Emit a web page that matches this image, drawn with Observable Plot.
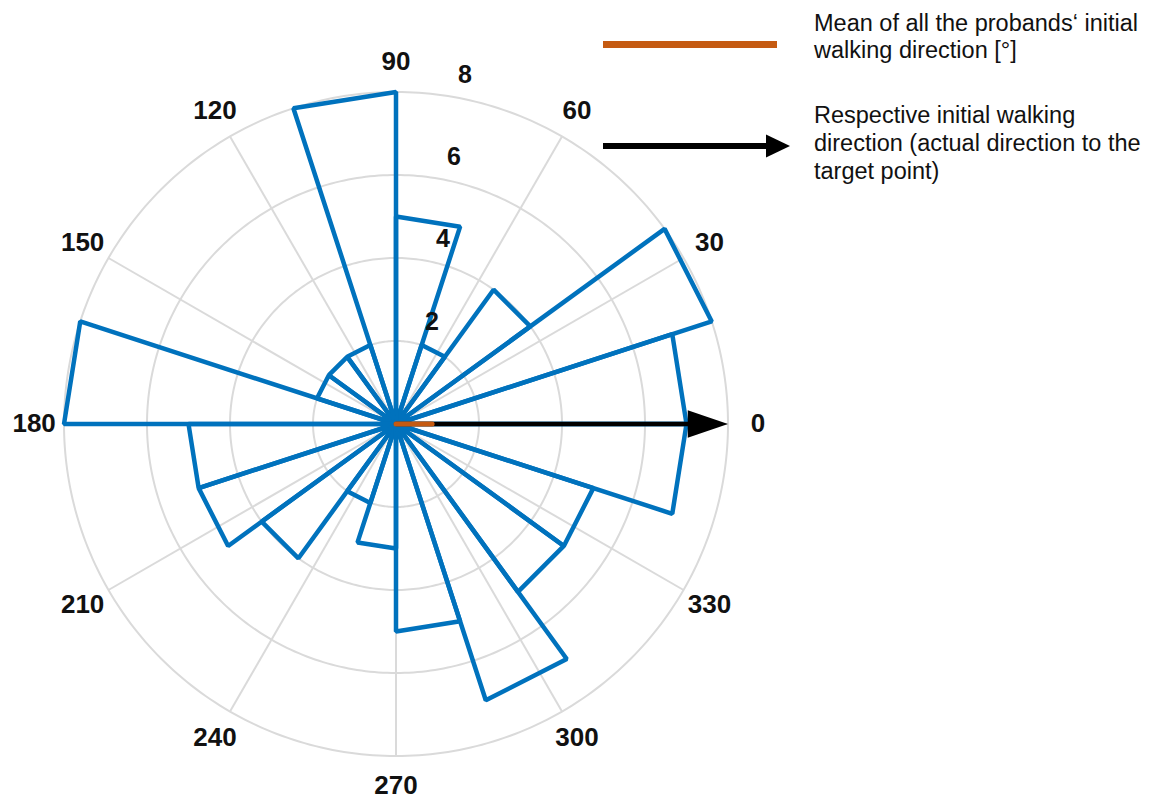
<!DOCTYPE html>
<html>
<head>
<meta charset="utf-8">
<script src="https://cdn.jsdelivr.net/npm/d3@7"></script>
<script src="https://cdn.jsdelivr.net/npm/@observablehq/plot@0.6"></script>
<style>
  html, body { margin: 0; padding: 0; background: #fff; }
  #wrap { position: relative; width: 1152px; height: 801px; overflow: hidden;
          font-family: "Liberation Sans", Arial, sans-serif; }
  .legtext { position: absolute; font-size: 23.5px; color: #111; white-space: nowrap; }
  .legsvg { position: absolute; overflow: visible; }
</style>
</head>
<body>
<div id="wrap">
  <div id="chart"></div>
  <div id="legend"></div>
</div>
<script>
// ---- data ----
const binStarts = [0, 18, 36, 54, 72, 90, 108, 126, 144, 162, 180, 198, 216, 234, 252, 270, 288, 306, 324, 342];
const binCounts = [7, 8, 4, 2, 5, 8, 2, 2, 2, 8, 5, 5, 4, 2, 3, 5, 7, 5, 5, 7];
const binWidth = 18;
const angleTicks = [0, 30, 60, 90, 120, 150, 180, 210, 240, 270, 300, 330];
const radialTicks = [2, 4, 6, 8];
const rMax = 8;
const meanDirection = 0;     // degrees
const meanLength = 0.87;     // radial units
const targetDirection = 0;   // degrees
const legendLabels = [
  ["Mean of all the probands\u2018 initial", "walking direction [\u00b0]"],
  ["Respective initial walking", "direction (actual direction to the", "target point)"]
];

// ---- helpers ----
const rad = a => a * Math.PI / 180;
const px = (r, a) => r * Math.cos(rad(a));
const py = (r, a) => r * Math.sin(rad(a));

const unit = 41.5;            // px per radial unit
const cx = 395.5, cy = 423.5; // centre in page px
const W = 1152, H = 801;

// rings
const ringPts = [];
for (const r of radialTicks) for (const a of d3.range(0, 360, 1)) ringPts.push({ring: r, x: px(r, a), y: py(r, a)});

// wedges
const wedgePts = [];
binStarts.forEach((a0, i) => {
  const v = binCounts[i], a1 = a0 + binWidth;
  wedgePts.push({bin: i, x: 0, y: 0});
  wedgePts.push({bin: i, x: px(v, a0), y: py(v, a0)});
  wedgePts.push({bin: i, x: px(v, a1), y: py(v, a1)});
});

// arrow to target
const headLen = 0.97, headHalf = 0.33;
const shaft = [{x: 0, y: 0}, {x: px(rMax - headLen + 0.05, targetDirection), y: py(rMax - headLen + 0.05, targetDirection)}];
const perp = targetDirection + 90;
const baseR = rMax - headLen;
const head = [
  {x: px(baseR, targetDirection) + px(headHalf, perp), y: py(baseR, targetDirection) + py(headHalf, perp)},
  {x: px(rMax, targetDirection), y: py(rMax, targetDirection)},
  {x: px(baseR, targetDirection) - px(headHalf, perp), y: py(baseR, targetDirection) - py(headHalf, perp)}
];
const meanLine = [{x: 0, y: 0}, {x: px(meanLength, meanDirection), y: py(meanLength, meanDirection)}];

const labelR = 8.72;
const rLabelAngle = 82.4;

const chart = Plot.plot({
  width: W,
  height: H,
  margin: 0,
  style: {fontFamily: "'Liberation Sans', Arial, sans-serif", background: "white"},
  x: {domain: [-cx / unit, (W - cx) / unit], axis: null},
  y: {domain: [-(H - cy) / unit, cy / unit], axis: null},
  marks: [
    Plot.line(ringPts, {x: "x", y: "y", z: "ring", curve: "linear-closed", stroke: "#dadada", strokeWidth: 2}),
    Plot.link(angleTicks, {x1: () => 0, y1: () => 0, x2: a => px(rMax, a), y2: a => py(rMax, a), stroke: "#dadada", strokeWidth: 2}),
    Plot.line(wedgePts, {x: "x", y: "y", z: "bin", curve: "linear-closed", stroke: "#0072BD", strokeWidth: 4.5, strokeLinejoin: "miter"}),
    Plot.line(shaft, {x: "x", y: "y", stroke: "black", strokeWidth: 4.5}),
    Plot.line(head, {x: "x", y: "y", curve: "linear-closed", fill: "black", stroke: "none"}),
    Plot.line(meanLine, {x: "x", y: "y", stroke: "#C55A11", strokeWidth: 5}),
    Plot.text(angleTicks, {x: a => px(labelR, a), y: a => py(labelR, a), text: a => String(a),
      fontSize: 26, fontWeight: "bold", fill: "#111", textAnchor: "middle", lineAnchor: "middle"}),
    Plot.text(radialTicks, {x: v => px(v, rLabelAngle), y: v => py(v, rLabelAngle), text: v => String(v),
      dx: 25, dy: -20, fontSize: 25, fontWeight: "bold", fill: "#111", textAnchor: "middle", lineAnchor: "middle"})
  ]
});
document.getElementById("chart").append(chart);

// ---- legend ----
const leg = document.getElementById("legend");
leg.innerHTML = `
  <div style="position:absolute;left:603px;top:40.5px;width:174px;height:7.5px;background:#C55A11"></div>
  <div class="legtext" style="left:814px;top:10.4px;line-height:27px">${legendLabels[0].join("<br>")}</div>
  <svg class="legsvg" style="left:600px;top:130px" width="200" height="32">
    <line x1="3" y1="16" x2="168" y2="16" stroke="black" stroke-width="6"></line>
    <polygon points="166,4.5 190,16 166,27.5" fill="black"></polygon>
  </svg>
  <div class="legtext" style="left:814px;top:100.6px;line-height:28px">${legendLabels[1].join("<br>")}</div>
`;
</script>
</body>
</html>
